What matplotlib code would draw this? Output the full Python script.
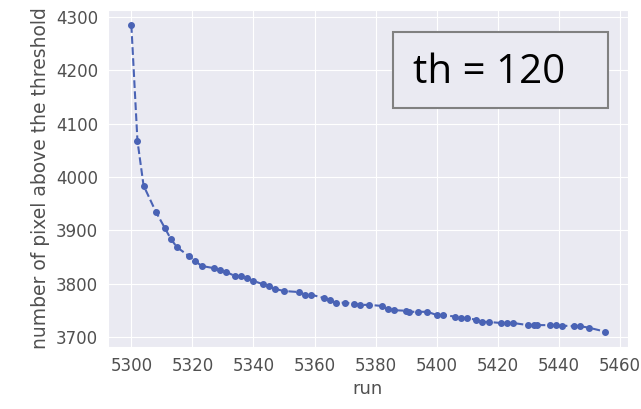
import matplotlib
matplotlib.use("Agg")
import matplotlib.pyplot as plt
import seaborn as sns
from matplotlib.patches import Rectangle

runs = [5300, 5302, 5304, 5308, 5311, 5313, 5315, 5319, 5321, 5323,
        5327, 5329, 5331, 5334, 5336, 5338, 5340, 5343, 5345, 5347,
        5350, 5355, 5357, 5359, 5363, 5365, 5367, 5370, 5373, 5375,
        5378, 5382, 5384, 5386, 5390, 5391, 5394, 5397, 5400, 5402,
        5406, 5408, 5410, 5413, 5415, 5417, 5421, 5423, 5425, 5430,
        5432, 5433, 5437, 5439, 5441, 5445, 5447, 5450, 5455]
pixels = [4285, 4068, 3984, 3935, 3904, 3883, 3868, 3851, 3842, 3833,
          3829, 3825, 3822, 3814, 3814, 3810, 3805, 3799, 3795, 3790,
          3786, 3784, 3779, 3779, 3773, 3769, 3764, 3764, 3762, 3760,
          3760, 3758, 3752, 3750, 3749, 3747, 3747, 3747, 3741, 3741,
          3738, 3735, 3735, 3732, 3728, 3728, 3726, 3726, 3726, 3722,
          3722, 3722, 3722, 3722, 3721, 3720, 3720, 3717, 3710]

sns.set_style("darkgrid")

fig = plt.figure(figsize=(6.41, 4.09), dpi=100)
ax = fig.add_axes([0.168, 0.152, 0.812, 0.824])
ax.plot(runs, pixels, linestyle="--", marker="o", markersize=4,
        color="#4a63b5", linewidth=1.5)

ax.set_xticks([5300, 5320, 5340, 5360, 5380, 5400, 5420, 5440, 5460])
ax.set_yticks([3700, 3800, 3900, 4000, 4100, 4200, 4300])
ax.tick_params(labelsize=12, colors="#505050")
ax.set_xlabel("run", fontsize=13, color="#505050")
ax.set_ylabel("number of pixel above the threshold", fontsize=13.5, color="#505050")

# pasted label box
fig.patches.append(Rectangle((0.613, 0.736), 0.335, 0.186, transform=fig.transFigure,
                             facecolor="#eaeaf2", edgecolor="#808080", linewidth=1.5))
fig.text(0.644, 0.797, "th = 120", fontsize=29, family="Open Sans", color="black",
         va="baseline", ha="left")

fig.savefig("out.png", dpi=100)
